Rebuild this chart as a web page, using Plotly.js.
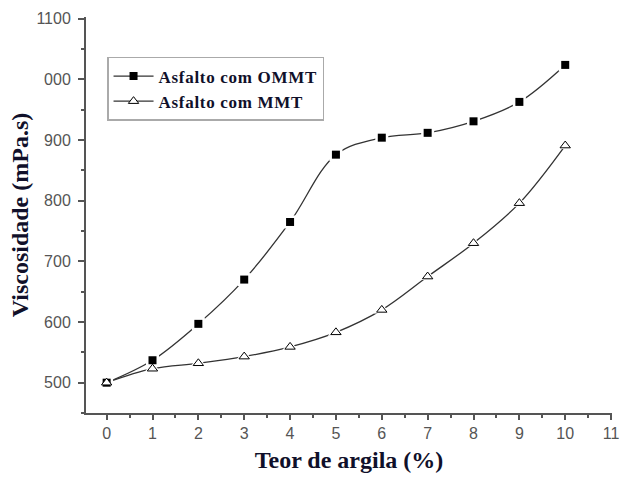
<!DOCTYPE html>
<html>
<head>
<meta charset="utf-8">
<script src="https://cdn.plot.ly/plotly-3.0.1.min.js"></script>
<style>
html,body{margin:0;padding:0;background:#fff;}
#chart{width:620px;height:478px;}
.legendtext{letter-spacing:0.7px;}
</style>
</head>
<body>
<div id="chart"></div>
<script>
const teor = [0, 1, 2, 3, 4, 5, 6, 7, 8, 9, 10];
const ommt = [500, 537, 597, 670, 765, 876, 904, 912, 931, 963, 1024];
const mmt = [500, 523, 532, 543, 559, 583, 620, 675, 730, 796, 891];
const seriesNames = ["Asfalto com OMMT", "Asfalto com MMT"];
const yTickVals = [500, 600, 700, 800, 900, 1000, 1100];
const yTickText = ["500", "600", "700", "800", "900", "000", "1100"];
const xTickVals = [0, 1, 2, 3, 4, 5, 6, 7, 8, 9, 10, 11];
const xTickText = ["0", "1", "2", "3", "4", "5", "6", "7", "8", "9", "10", "11"];

const lineColor = '#333333';
const traces = [
  {x: teor, y: ommt, type: 'scatter', mode: 'lines', line: {shape: 'spline', color: lineColor, width: 1.3}, showlegend: false, hoverinfo: 'skip'},
  {x: teor, y: mmt, type: 'scatter', mode: 'lines', line: {shape: 'spline', color: lineColor, width: 1.3}, showlegend: false, hoverinfo: 'skip'},
  {x: teor, y: ommt, type: 'scatter', mode: 'markers', marker: {symbol: 'square', size: 13, color: '#fff'}, showlegend: false, hoverinfo: 'skip'},
  {x: teor, y: mmt, type: 'scatter', mode: 'markers', marker: {symbol: 'triangle-up', size: 14, color: '#fff'}, showlegend: false, hoverinfo: 'skip'},
  {x: teor, y: ommt, type: 'scatter', mode: 'markers', name: seriesNames[0],
   marker: {symbol: 'square', size: 8, color: '#000', line: {width: 0}}, showlegend: false},
  {x: teor, y: mmt, type: 'scatter', mode: 'markers', name: seriesNames[1],
   marker: {symbol: 'triangle-up', size: 9, color: '#fff', line: {color: '#000', width: 1}}, showlegend: false},
  {x: [null], y: [null], type: 'scatter', mode: 'lines+markers', name: seriesNames[0],
   line: {color: lineColor, width: 1.3}, marker: {symbol: 'square', size: 8, color: '#000'}},
  {x: [null], y: [null], type: 'scatter', mode: 'lines+markers', name: seriesNames[1],
   line: {color: lineColor, width: 1.3}, marker: {symbol: 'triangle-up', size: 9, color: '#fff', line: {color: '#000', width: 1}}}
];

const titleFont = {family: '"Liberation Serif", "Times New Roman", serif', size: 24, color: '#10102a', weight: 'bold'};
const tickFont = {family: '"Liberation Sans", Arial, sans-serif', size: 16, color: '#555'};

const layout = {
  width: 620, height: 478,
  margin: {l: 86, r: 8, t: 17, b: 65},
  paper_bgcolor: '#fff', plot_bgcolor: '#fff',
  showlegend: true,
  legend: {
    x: 0.04, y: 0.899, xanchor: 'left', yanchor: 'top',
    bgcolor: '#fff', bordercolor: '#aaa', borderwidth: 1.5,
    font: {family: '"Liberation Serif", "Times New Roman", serif', size: 17, color: '#10102a', weight: 'bold'},
    tracegroupgap: 0, itemwidth: 40
  },
  xaxis: {
    range: [-0.45, 11.02], tickvals: xTickVals, ticktext: xTickText,
    showgrid: false, zeroline: false, showline: true, linecolor: '#555', linewidth: 2,
    ticks: 'outside', ticklen: 5, tickwidth: 2, tickcolor: '#555',
    minor: {dtick: 0.5, tick0: 0, ticks: 'outside', ticklen: 3, tickwidth: 2, tickcolor: '#555', showgrid: false},
    tickfont: tickFont,
    title: {text: 'Teor de argila (%)', font: titleFont, standoff: 10}
  },
  yaxis: {
    range: [450, 1103], tickvals: yTickVals, ticktext: yTickText,
    showgrid: false, zeroline: false, showline: true, linecolor: '#555', linewidth: 2,
    ticks: 'outside', ticklen: 6, tickwidth: 2, tickcolor: '#555',
    minor: {dtick: 50, tick0: 450, ticks: 'outside', ticklen: 3, tickwidth: 2, tickcolor: '#555', showgrid: false},
    tickfont: tickFont, ticklabelstandoff: 4,
    title: {text: 'Viscosidade (mPa.s)', font: titleFont, standoff: 1}
  }
};

Plotly.newPlot('chart', traces, layout, {displayModeBar: false, staticPlot: true});
</script>
</body>
</html>
